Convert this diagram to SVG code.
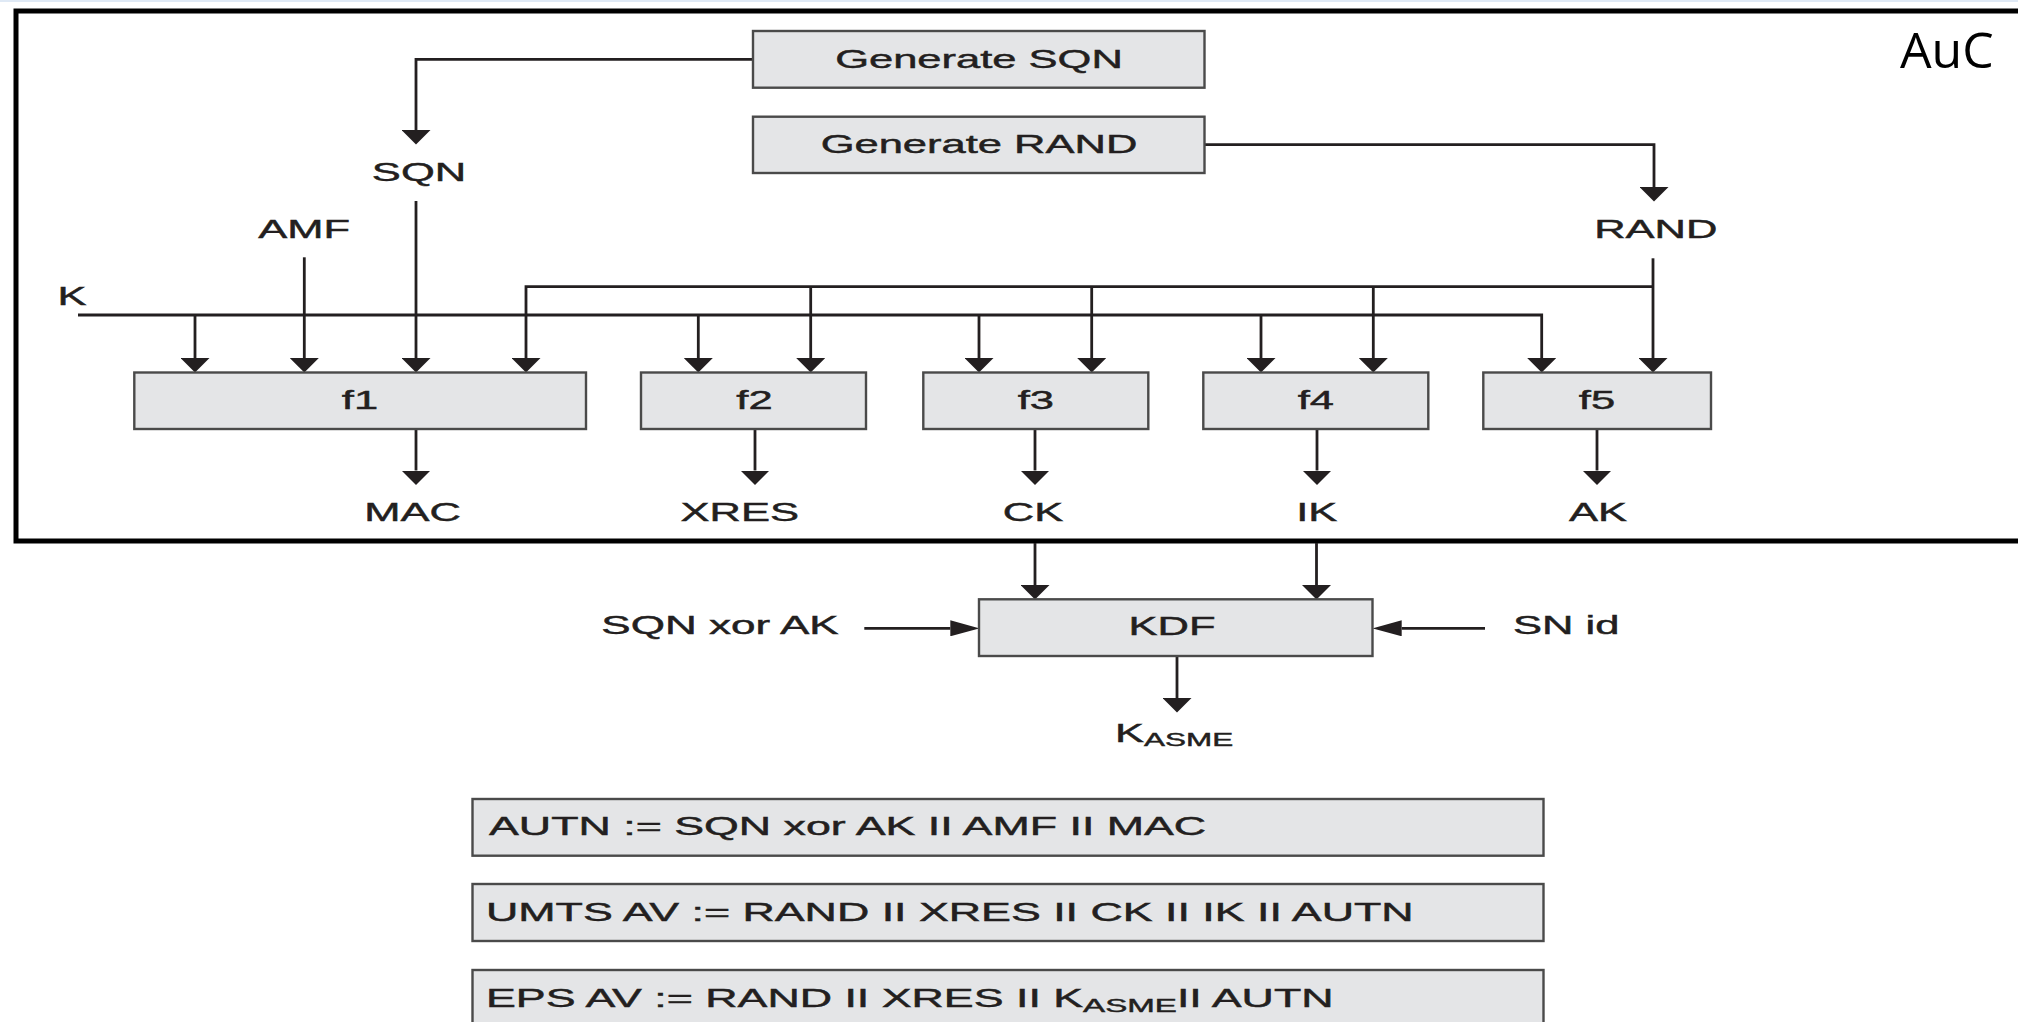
<svg xmlns="http://www.w3.org/2000/svg" width="2018" height="1022" viewBox="0 0 2018 1022">
<style>
.box{fill:#e4e5e7;stroke:#4a4a4a;stroke-width:2.4}
.lbl{font-family:"Liberation Sans",Arial,Helvetica,sans-serif;font-size:25.6px;fill:#231f20;stroke:#231f20;stroke-width:0.45;text-anchor:middle}
.frm{font-family:"Liberation Sans",Arial,Helvetica,sans-serif;font-size:25px;fill:#231f20;stroke:#231f20;stroke-width:0.45}
.sub{font-size:18.5px}
.cn{fill:none;stroke:#231f20;stroke-width:2.8}
.av{marker-end:url(#arrowV)}
.ah{marker-end:url(#arrowH)}
</style>
<defs>
<marker id="arrowV" markerUnits="userSpaceOnUse" viewBox="0 0 14.5 29" markerWidth="14.5" markerHeight="29" refX="0" refY="14.5" orient="auto">
<path d="M0,0 L14.5,14.5 L0,29 Z" fill="#231f20"/>
</marker>
<marker id="arrowH" markerUnits="userSpaceOnUse" viewBox="0 0 29 16" markerWidth="29" markerHeight="16" refX="0" refY="8" orient="auto">
<path d="M0,0 L29,8 L0,16 Z" fill="#231f20"/>
</marker>
</defs>
<rect x="0" y="0" width="2018" height="1022" fill="#ffffff"/>
<rect x="0" y="0" width="2018" height="2" fill="#dfe9f5"/>

<g id="auc-boundary">
<rect x="16" y="11" width="2030" height="530" fill="none" stroke="#000000" stroke-width="5"/>
<text x="1900" y="68" font-family="'Open Sans','Noto Sans',sans-serif" font-size="50" fill="#000000">AuC</text>
</g>

<g id="connectors">
<path class="cn av" d="M753,59.3 H416 V130"/>
<path class="cn av" d="M1204.5,144.7 H1654 V187"/>
<path class="cn av" d="M416,201 V358"/>
<path class="cn av" d="M304.3,257.3 V358"/>
<path class="cn av" d="M78,315 H1541.7 V358"/>
<path class="cn av" d="M195,315 V358"/>
<path class="cn av" d="M698.3,315 V358"/>
<path class="cn av" d="M979,315 V358"/>
<path class="cn av" d="M1261,315 V358"/>
<path class="cn av" d="M1653,258.3 V358"/>
<path class="cn av" d="M1653,286.7 H526 V358"/>
<path class="cn av" d="M810.7,286.7 V358"/>
<path class="cn av" d="M1091.7,286.7 V358"/>
<path class="cn av" d="M1373.3,286.7 V358"/>
<path class="cn av" d="M416,429 V470.5"/>
<path class="cn av" d="M755,429 V470.5"/>
<path class="cn av" d="M1035,429 V470.5"/>
<path class="cn av" d="M1317,429 V470.5"/>
<path class="cn av" d="M1597,429 V470.5"/>
<path class="cn av" d="M1035,543 V585"/>
<path class="cn av" d="M1316.5,543 V585"/>
<path class="cn av" d="M1177,656 V698"/>
<path class="cn ah" d="M864.3,628.3 H950.3"/>
<path class="cn ah" d="M1485,628.3 H1401.7"/>
</g>

<g id="gen-sqn">
<rect class="box" x="753" y="31" width="451.5" height="56.7"/>
<text class="lbl" transform="translate(979,67.7) scale(1.7,1)">Generate SQN</text>
</g>
<g id="gen-rand">
<rect class="box" x="753" y="116.7" width="451.5" height="56.3"/>
<text class="lbl" transform="translate(979,152.7) scale(1.7,1)">Generate RAND</text>
</g>
<g id="lbl-sqn"><text class="lbl" transform="translate(419,180.7) scale(1.7,1)">SQN</text></g>
<g id="lbl-amf"><text class="lbl" transform="translate(304.2,238.3) scale(1.7,1)">AMF</text></g>
<g id="lbl-k"><text class="lbl" style="text-anchor:start" transform="translate(57.5,305) scale(1.7,1)">K</text></g>
<g id="lbl-rand"><text class="lbl" transform="translate(1655.8,238.3) scale(1.7,1)">RAND</text></g>

<g id="f1">
<rect class="box" x="134.3" y="372.5" width="451.7" height="56.5"/>
<text class="lbl" transform="translate(360,408.5) scale(1.7,1)">f1</text>
</g>
<g id="f2">
<rect class="box" x="641" y="372.5" width="225" height="56.5"/>
<text class="lbl" transform="translate(754.5,408.5) scale(1.7,1)">f2</text>
</g>
<g id="f3">
<rect class="box" x="923.3" y="372.5" width="225" height="56.5"/>
<text class="lbl" transform="translate(1035.8,408.5) scale(1.7,1)">f3</text>
</g>
<g id="f4">
<rect class="box" x="1203.3" y="372.5" width="225" height="56.5"/>
<text class="lbl" transform="translate(1315.8,408.5) scale(1.7,1)">f4</text>
</g>
<g id="f5">
<rect class="box" x="1483.3" y="372.5" width="227.7" height="56.5"/>
<text class="lbl" transform="translate(1597,408.5) scale(1.7,1)">f5</text>
</g>

<g id="out-mac"><text class="lbl" transform="translate(412.5,521) scale(1.7,1)">MAC</text></g>
<g id="out-xres"><text class="lbl" transform="translate(739.7,521) scale(1.7,1)">XRES</text></g>
<g id="out-ck"><text class="lbl" transform="translate(1033,521) scale(1.7,1)">CK</text></g>
<g id="out-ik"><text class="lbl" transform="translate(1316.7,521) scale(1.7,1)">IK</text></g>
<g id="out-ak"><text class="lbl" transform="translate(1598,521) scale(1.7,1)">AK</text></g>

<g id="kdf">
<rect class="box" x="979" y="599.3" width="393.5" height="56.7"/>
<text class="lbl" transform="translate(1172,635) scale(1.7,1)">KDF</text>
</g>
<g id="in-sqnxorak"><text class="lbl" transform="translate(720,634) scale(1.72,1)">SQN xor AK</text></g>
<g id="in-snid"><text class="lbl" transform="translate(1566.3,634) scale(1.7,1)">SN id</text></g>
<g id="out-kasme"><text class="lbl" style="text-anchor:start" transform="translate(1115,741.7) scale(1.7,1)">K<tspan class="sub" dy="4.5">ASME</tspan></text></g>

<g id="autn">
<rect class="box" x="472.5" y="799" width="1071" height="56.7"/>
<text class="frm" transform="translate(489,835) scale(1.79,1)">AUTN := SQN xor AK II AMF II MAC</text>
</g>
<g id="umts-av">
<rect class="box" x="472.5" y="884" width="1071" height="57"/>
<text class="frm" transform="translate(486,920.7) scale(1.79,1)">UMTS AV := RAND II XRES II CK II IK II AUTN</text>
</g>
<g id="eps-av">
<rect class="box" x="472.5" y="970" width="1071" height="57"/>
<text class="frm" transform="translate(486,1006.7) scale(1.79,1)">EPS AV := RAND II XRES II K<tspan class="sub" dy="5">ASME</tspan><tspan dy="-5">II AUTN</tspan></text>
</g>
</svg>
